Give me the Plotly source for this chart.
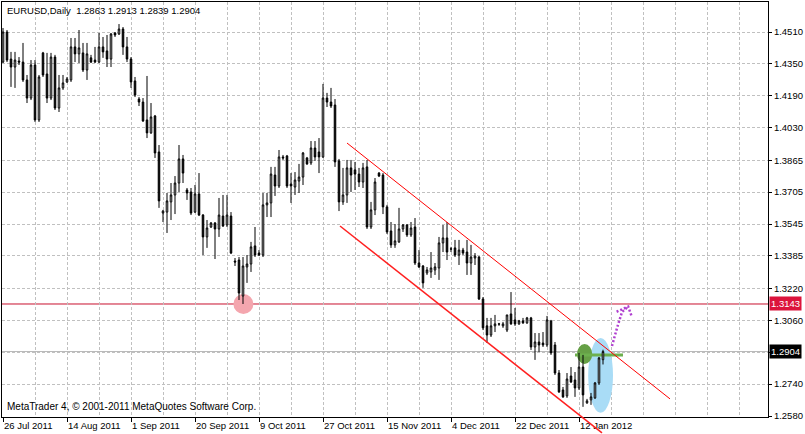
import datetime as dt
import plotly.graph_objects as go

# ---------------- data (EURUSD daily) ----------------
opens = [1.4359,1.4510,1.4374,1.4334,1.4364,1.4359,1.4269,1.4178,1.4344,1.4068,
         1.4405,1.4299,1.4178,1.4384,1.4128,1.4229,1.4259,1.4269,1.4435,1.4400,
         1.4405,1.4319,1.4380,1.4369,1.4359,1.4435,1.4415,1.4374,1.4505,1.4500,
         1.4525,1.4435,1.4374,1.4264,1.4173,1.4158,1.4068,1.4003,1.4088,1.3907,
         1.3600,1.3605,1.3656,1.3691,1.3751,1.3872,1.3716,1.3706,1.3605,1.3696,
         1.3590,1.3480,1.3530,1.3550,1.3520,1.3585,1.3540,1.3585,1.3359,1.3364,
         1.3183,1.3329,1.3344,1.3435,1.3399,1.3389,1.3641,1.3651,1.3791,1.3736,
         1.3882,1.3887,1.3746,1.3731,1.3761,1.3781,1.3877,1.3852,1.3927,1.3907,
         1.3882,1.4178,1.4158,1.4143,1.3862,1.3656,1.3691,1.3827,1.3817,1.3796,
         1.3756,1.3832,1.3530,1.3616,1.3801,1.3791,1.3631,1.3510,1.3440,1.3455,
         1.3520,1.3540,1.3490,1.3530,1.3349,1.3334,1.3299,1.3304,1.3314,1.3324,
         1.3450,1.3475,1.3420,1.3425,1.3389,1.3414,1.3404,1.3349,1.3374,1.3379,
         1.3168,1.3033,1.2987,1.3033,1.3043,1.3033,1.3012,1.3093,1.3063,1.3043,
         1.3058,1.3048,1.3073,1.2927,1.2952,1.2947,1.2937,1.3058,1.2937,1.2796,
         1.2711,1.2681,1.2781,1.2761,1.2721,1.2826,1.2646,1.2661,1.2671,1.2746,
         1.2863]
highs = [1.4530,1.4520,1.4410,1.4410,1.4384,1.4455,1.4294,1.4369,1.4369,1.4294,
         1.4410,1.4405,1.4405,1.4395,1.4294,1.4294,1.4284,1.4480,1.4480,1.4520,
         1.4455,1.4455,1.4395,1.4435,1.4505,1.4485,1.4495,1.4505,1.4510,1.4550,
         1.4535,1.4485,1.4384,1.4284,1.4183,1.4178,1.4289,1.4153,1.4093,1.3942,
         1.3616,1.3701,1.3751,1.3786,1.3942,1.3892,1.3726,1.3726,1.3741,1.3801,
         1.3595,1.3565,1.3555,1.3555,1.3676,1.3691,1.3691,1.3605,1.3374,1.3379,
         1.3379,1.3389,1.3455,1.3530,1.3414,1.3701,1.3701,1.3832,1.3832,1.3917,
         1.3892,1.3892,1.3801,1.3806,1.3847,1.3907,1.3882,1.3962,1.3962,1.3977,
         1.4249,1.4204,1.4229,1.4173,1.3872,1.3827,1.3867,1.3867,1.3857,1.3827,
         1.3852,1.3867,1.3656,1.3776,1.3806,1.3801,1.3641,1.3555,1.3545,1.3626,
         1.3545,1.3545,1.3555,1.3575,1.3414,1.3339,1.3329,1.3404,1.3349,1.3480,
         1.3540,1.3555,1.3430,1.3465,1.3465,1.3425,1.3465,1.3440,1.3399,1.3384,
         1.3178,1.3073,1.3073,1.3088,1.3048,1.3053,1.3088,1.3203,1.3123,1.3063,
         1.3073,1.3078,1.3078,1.2997,1.2997,1.3002,1.3083,1.3063,1.2952,1.2811,
         1.2726,1.2796,1.2826,1.2801,1.2897,1.2887,1.2666,1.2696,1.2751,1.2877,
         1.2913]
lows = [1.4354,1.4359,1.4234,1.4229,1.4344,1.4259,1.4153,1.4168,1.4058,1.4058,
        1.4284,1.4153,1.4168,1.4118,1.4108,1.4219,1.4254,1.4259,1.4359,1.4354,
        1.4309,1.4269,1.4354,1.4354,1.4354,1.4380,1.4334,1.4334,1.4485,1.4495,
        1.4395,1.4359,1.4229,1.4183,1.4138,1.4058,1.3977,1.3998,1.3877,1.3626,
        1.3555,1.3500,1.3565,1.3595,1.3706,1.3751,1.3666,1.3590,1.3600,1.3585,
        1.3389,1.3425,1.3525,1.3369,1.3480,1.3530,1.3530,1.3394,1.3334,1.3163,
        1.3143,1.3249,1.3304,1.3379,1.3384,1.3379,1.3580,1.3580,1.3686,1.3726,
        1.3867,1.3726,1.3651,1.3691,1.3701,1.3741,1.3842,1.3842,1.3862,1.3801,
        1.3877,1.4133,1.4128,1.3832,1.3610,1.3641,1.3651,1.3706,1.3716,1.3731,
        1.3726,1.3520,1.3520,1.3590,1.3781,1.3595,1.3495,1.3425,1.3425,1.3450,
        1.3505,1.3480,1.3480,1.3339,1.3324,1.3224,1.3289,1.3274,1.3289,1.3264,
        1.3404,1.3364,1.3404,1.3379,1.3339,1.3389,1.3289,1.3289,1.3339,1.3163,
        1.3012,1.2947,1.2977,1.3002,1.3033,1.3023,1.3002,1.3038,1.3033,1.3038,
        1.3043,1.3043,1.2912,1.2862,1.2902,1.2927,1.2927,1.2887,1.2786,1.2696,
        1.2671,1.2671,1.2746,1.2676,1.2711,1.2626,1.2641,1.2636,1.2666,1.2736,
        1.2839]
closes = [1.4510,1.4369,1.4334,1.4369,1.4359,1.4269,1.4178,1.4344,1.4068,1.4284,
          1.4294,1.4178,1.4384,1.4128,1.4229,1.4254,1.4274,1.4435,1.4400,1.4430,
          1.4319,1.4400,1.4359,1.4359,1.4435,1.4410,1.4374,1.4500,1.4495,1.4525,
          1.4435,1.4374,1.4259,1.4193,1.4158,1.4063,1.4003,1.4083,1.3902,1.3661,
          1.3610,1.3661,1.3691,1.3751,1.3872,1.3801,1.3701,1.3600,1.3696,1.3590,
          1.3480,1.3525,1.3550,1.3520,1.3590,1.3535,1.3590,1.3399,1.3354,1.3198,
          1.3334,1.3344,1.3430,1.3389,1.3389,1.3641,1.3651,1.3796,1.3736,1.3882,
          1.3877,1.3736,1.3736,1.3766,1.3781,1.3902,1.3847,1.3927,1.3882,1.3882,
          1.4178,1.4158,1.4138,1.3857,1.3656,1.3691,1.3827,1.3791,1.3796,1.3756,
          1.3827,1.3530,1.3616,1.3756,1.3786,1.3631,1.3505,1.3440,1.3460,1.3520,
          1.3540,1.3490,1.3525,1.3349,1.3329,1.3249,1.3314,1.3324,1.3329,1.3450,
          1.3475,1.3404,1.3419,1.3389,1.3414,1.3399,1.3349,1.3379,1.3384,1.3168,
          1.3023,1.2987,1.3033,1.3043,1.3042,1.3043,1.3088,1.3043,1.3043,1.3058,
          1.3048,1.3073,1.2927,1.2952,1.2937,1.2937,1.3063,1.2897,1.2796,1.2701,
          1.2676,1.2766,1.2751,1.2721,1.2826,1.2686,1.2656,1.2676,1.2746,1.2872,
          1.2904]

x_tick_labels = ["26 Jul 2011", "14 Aug 2011", "1 Sep 2011", "20 Sep 2011", "9 Oct 2011",
                 "27 Oct 2011", "15 Nov 2011", "4 Dec 2011", "22 Dec 2011", "12 Jan 2012"]
y_tick_values = [1.4510, 1.4350, 1.4190, 1.4030, 1.3865, 1.3705, 1.3545, 1.3385,
                 1.3220, 1.3060, 1.2900, 1.2740, 1.2580]
y_tick_labels = ["1.4510", "1.4350", "1.4190", "1.4030", "1.3865", "1.3705", "1.3545",
                 "1.3385", "1.3220", "1.3060", "", "1.2740", "1.2580"]

level_line = 1.3143          # horizontal level (marked low)
bid_price = closes[-1]       # last price line
# channel lines: (bar index, price) end points
upper_channel = [(86.0, 1.3952), (166.75, 1.2666)]
lower_channel = [(84.25, 1.3535), (149.75, 1.2495)]
# hand-drawn marks: centre (bar, price) and half sizes (bars, price)
pink_circle = (60.1, 1.3143, 2.5, 0.0050)
green_ellipse = (145.4, 1.2892, 1.9, 0.0050)
blue_ellipse = (149.4, 1.2784, 3.1, 0.0188)
green_line = [(143.0, 1.2887), (155.0, 1.2887)]
arrow_shaft = [(152.25, 1.2932), (153.5, 1.3022), (154.75, 1.3103), (156.3, 1.3130)]
arrow_head = [(153.4, 1.3104), (156.3, 1.3130), (157.2, 1.3079)]

# ---------------- calendar (MT4 daily bars incl. Sundays) ----------------
skip = {dt.date(2011, 12, 25), dt.date(2012, 1, 1)}
dates = []
d = dt.date(2011, 7, 26)
while len(dates) < len(opens):
    if d.weekday() != 5 and d not in skip:
        dates.append(d)
    d += dt.timedelta(days=1)
date_txt = [f"{x.day} {x.strftime('%b')} {x.year}" for x in dates]
xs = list(range(len(opens)))
tick_pos = [date_txt.index(t) for t in x_tick_labels]

XR = [-0.25, 191.25]
YR = [1.25750, 1.46608]

def to_paper(xi, p):
    return ((xi - XR[0]) / (XR[1] - XR[0]), (p - YR[0]) / (YR[1] - YR[0]))

FONT = "Liberation Sans"

fig = go.Figure()
fig.add_trace(go.Candlestick(
    x=xs, open=opens, high=highs, low=lows, close=closes,
    text=date_txt, hoverinfo="text+y",
    increasing=dict(fillcolor="white", line=dict(color="black", width=1)),
    decreasing=dict(fillcolor="black", line=dict(color="black", width=1)),
    whiskerwidth=0, showlegend=False,
))

shapes = []
def ellipse(c, color):
    cx, cy, rx, ry = c
    return dict(type="circle", xref="x", yref="y", x0=cx - rx, x1=cx + rx,
                y0=cy - ry, y1=cy + ry, fillcolor=color, line=dict(width=0),
                layer="between")

shapes.append(ellipse(pink_circle, "#F4A6AE"))
shapes.append(ellipse(blue_ellipse, "#A9DCF6"))
shapes.append(ellipse(green_ellipse, "#66A046"))
shapes.append(dict(type="line", xref="x", yref="y",
                   x0=green_line[0][0], y0=green_line[0][1],
                   x1=green_line[1][0], y1=green_line[1][1],
                   line=dict(color="#6DB04E", width=3), layer="between"))
shapes.append(dict(type="line", xref="paper", yref="y", x0=0, x1=1,
                   y0=level_line, y1=level_line,
                   line=dict(color="#C8102E", width=1), layer="between"))
shapes.append(dict(type="line", xref="paper", yref="y", x0=0, x1=1,
                   y0=bid_price, y1=bid_price,
                   line=dict(color="#B8B8B8", width=1), layer="between"))
shapes.append(dict(type="line", xref="x", yref="y",
                   x0=upper_channel[0][0], y0=upper_channel[0][1],
                   x1=upper_channel[1][0], y1=upper_channel[1][1],
                   line=dict(color="#FF0000", width=1), layer="above"))
p0 = to_paper(*lower_channel[0]); p1 = to_paper(*lower_channel[1])
shapes.append(dict(type="line", xref="paper", yref="paper",
                   x0=p0[0], y0=p0[1], x1=p1[0], y1=p1[1],
                   line=dict(color="#FF2020", width=1.5), layer="above"))

def path(pts):
    return "M " + " L ".join(f"{a},{b}" for a, b in pts)

for pts in (arrow_shaft, arrow_head):
    shapes.append(dict(type="path", xref="x", yref="y", path=path(pts),
                       line=dict(color="#B040D0", width=2.5, dash="2px,2px"),
                       layer="above"))

annotations = [
    dict(xref="paper", yref="paper", x=0, y=1, xanchor="left", yanchor="top",
         xshift=3, yshift=-1, showarrow=False,
         text="EURUSD,Daily\u00a0\u00a01.2863 1.2913 1.2839 1.2904",
         font=dict(family=FONT, size=9.5, color="black")),
    dict(xref="paper", yref="paper", x=0, y=0, xanchor="left", yanchor="bottom",
         xshift=3, yshift=3, showarrow=False,
         text="MetaTrader 4, \u00a9 2001-2011 MetaQuotes Software Corp.",
         font=dict(family=FONT, size=10, color="black")),
    dict(xref="paper", yref="y", x=1, y=level_line, xanchor="left", yanchor="middle",
         xshift=1, showarrow=False, text="1.3143", bgcolor="#DC143C", borderpad=1,
         font=dict(family=FONT, size=9.5, color="white")),
    dict(xref="paper", yref="y", x=1, y=bid_price, xanchor="left", yanchor="middle",
         xshift=1, showarrow=False, text="1.2904", bgcolor="black", borderpad=1,
         font=dict(family=FONT, size=9.5, color="white")),
]

grid = dict(gridcolor="#C0C0C0", griddash="3px,2px", gridwidth=1)
fig.update_layout(
    width=805, height=434,
    margin=dict(l=2, r=37, t=2, b=17),
    paper_bgcolor="white", plot_bgcolor="white",
    boxgap=0.45,
    shapes=shapes, annotations=annotations,
    showlegend=False,
    xaxis=dict(range=XR, tickmode="array", tickvals=tick_pos, ticktext=x_tick_labels,
               ticks="outside", ticklen=4, tickcolor="black",
               ticklabelposition="outside right",
               tickfont=dict(family=FONT, size=9.5, color="black"),
               showgrid=True, **grid,
               minor=dict(tick0=0, dtick=8, showgrid=True, ticks="", **grid),
               showline=True, linecolor="black", linewidth=1, mirror=True,
               zeroline=False, rangeslider=dict(visible=False), automargin=False,
               fixedrange=True),
    yaxis=dict(range=YR, side="right", tickmode="array", tickvals=y_tick_values,
               ticktext=y_tick_labels, ticks="outside", ticklen=3, tickcolor="black",
               tickfont=dict(family=FONT, size=9.5, color="black"),
               showgrid=True, **grid,
               showline=True, linecolor="black", linewidth=1, mirror=True,
               zeroline=False, automargin=False, fixedrange=True),
)

fig.write_html("out.html", config={"displayModeBar": False},
               post_script="document.body.style.margin='0';document.body.style.overflow='hidden';")
